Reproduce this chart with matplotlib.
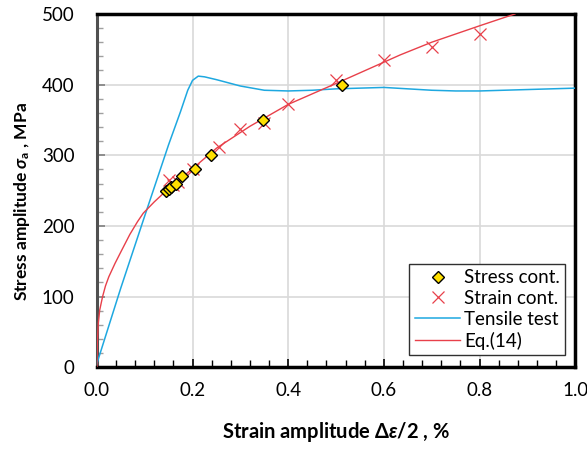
import matplotlib as ml
import matplotlib.pyplot as plt
from matplotlib.ticker import MultipleLocator

ml.rcParams.update({
    'font.family': ['Lato', 'DejaVu Sans'],
    'mathtext.fontset': 'custom',
    'mathtext.rm': 'Lato:bold',
    'mathtext.it': 'Lato:bold:italic',
    'font.size': 13,
})

# Stress controlled tests
stress_x = [0.145, 0.150, 0.156, 0.165, 0.178, 0.206, 0.238, 0.348, 0.513]
stress_y = [250, 252, 255, 260, 270, 280, 300, 350, 400]

# Strain controlled tests
strain_x = [0.150, 0.160, 0.170, 0.200, 0.255, 0.300, 0.350, 0.400, 0.500, 0.600, 0.700, 0.800]
strain_y = [265, 258, 262, 280, 312, 337, 345, 372, 407, 435, 453, 471]

# Tensile test curve
tensile_x = [0.0, 0.05, 0.10, 0.15, 0.175, 0.19, 0.20, 0.212, 0.225, 0.25, 0.30, 0.35, 0.40,
             0.45, 0.50, 0.55, 0.60, 0.65, 0.70, 0.75, 0.80, 0.85, 0.90, 0.95, 1.0]
tensile_y = [5, 112, 214, 315, 362, 392, 406, 412, 411, 407, 398, 392, 391,
             392, 394, 395, 396, 394, 392, 391, 391, 392, 393, 394, 395]

# Eq.(14) curve
eq_x = [0.0, 0.001, 0.003, 0.006, 0.012, 0.018, 0.025, 0.038, 0.050, 0.069, 0.085, 0.097,
        0.120, 0.139, 0.170, 0.20, 0.25, 0.32, 0.40, 0.508, 0.634, 0.70, 0.799, 0.874]
eq_y = [0, 35, 62, 81, 100, 115, 128, 147, 163, 188, 206, 218,
        234, 246, 264, 281, 310, 341, 372, 404, 442, 460, 483, 500]

BLUE = '#1ea8e0'
RED = '#e8404a'

fig = plt.figure(figsize=(5.87, 4.5), dpi=100)
ax = fig.add_axes([0.165, 0.184, 0.815, 0.785])

ax.plot(tensile_x, tensile_y, color=BLUE, linewidth=1.1, label='Tensile test', zorder=3)
ax.plot(eq_x, eq_y, color=RED, linewidth=1.0, label='Eq.(14)', zorder=3)
ax.plot(strain_x, strain_y, linestyle='none', marker='x', markersize=9, markeredgewidth=0.9,
        color=RED, label='Strain cont.', zorder=4)
ax.plot(stress_x, stress_y, linestyle='none', marker='D', markersize=6.5,
        markerfacecolor='#ffe000', markeredgecolor='black', markeredgewidth=1.0,
        label='Stress cont.', zorder=5)

ax.set_xlim(0, 1.0)
ax.set_ylim(0, 500)
ax.xaxis.set_major_locator(MultipleLocator(0.2))
ax.xaxis.set_minor_locator(MultipleLocator(0.04))
ax.yaxis.set_major_locator(MultipleLocator(100))
ax.yaxis.set_minor_locator(MultipleLocator(20))
ax.set_xticklabels([f'{v:.1f}' for v in ax.get_xticks()])

ax.grid(True, which='major', color='#d9d9d9', linewidth=1.2, zorder=0)
ax.set_axisbelow(True)

ax.tick_params(axis='both', which='both', direction='in', labelsize=13.5)
ax.tick_params(axis='x', which='major', length=6, width=1.2, pad=11)
ax.tick_params(axis='x', which='minor', length=5, width=1.0)
ax.tick_params(axis='y', which='major', length=6, width=1.2, pad=16, color='#808080')
ax.tick_params(axis='y', which='minor', length=4, width=1.0, color='#a0a0a0')

for side in ['top', 'right', 'bottom']:
    ax.spines[side].set_color('black')
    ax.spines[side].set_linewidth(2.5)
ax.spines['left'].set_color('#505050')
ax.spines['left'].set_linewidth(2.2)

ax.set_xlabel(r'Strain amplitude $\mathit{\Delta\varepsilon}$/2 , %', fontweight='bold',
              fontsize=14.5, labelpad=15)
ax.set_ylabel(r'Stress amplitude $\mathit{\sigma}_\mathrm{a}$ , MPa', fontweight='bold',
              fontsize=12.5)
ax.yaxis.set_label_coords(-0.135, 0.47)

handles, labels = ax.get_legend_handles_labels()
order = [3, 2, 0, 1]
leg = ax.legend([handles[i] for i in order], [labels[i] for i in order],
                loc='lower right', bbox_to_anchor=(0.979, 0.034), fontsize=13.5,
                fancybox=False, framealpha=1, edgecolor='#303030', handlelength=2.4,
                handletextpad=0.2, borderpad=0.3, labelspacing=0.2, borderaxespad=0)
leg.get_frame().set_linewidth(1.0)

fig.savefig('out.png', dpi=100)
